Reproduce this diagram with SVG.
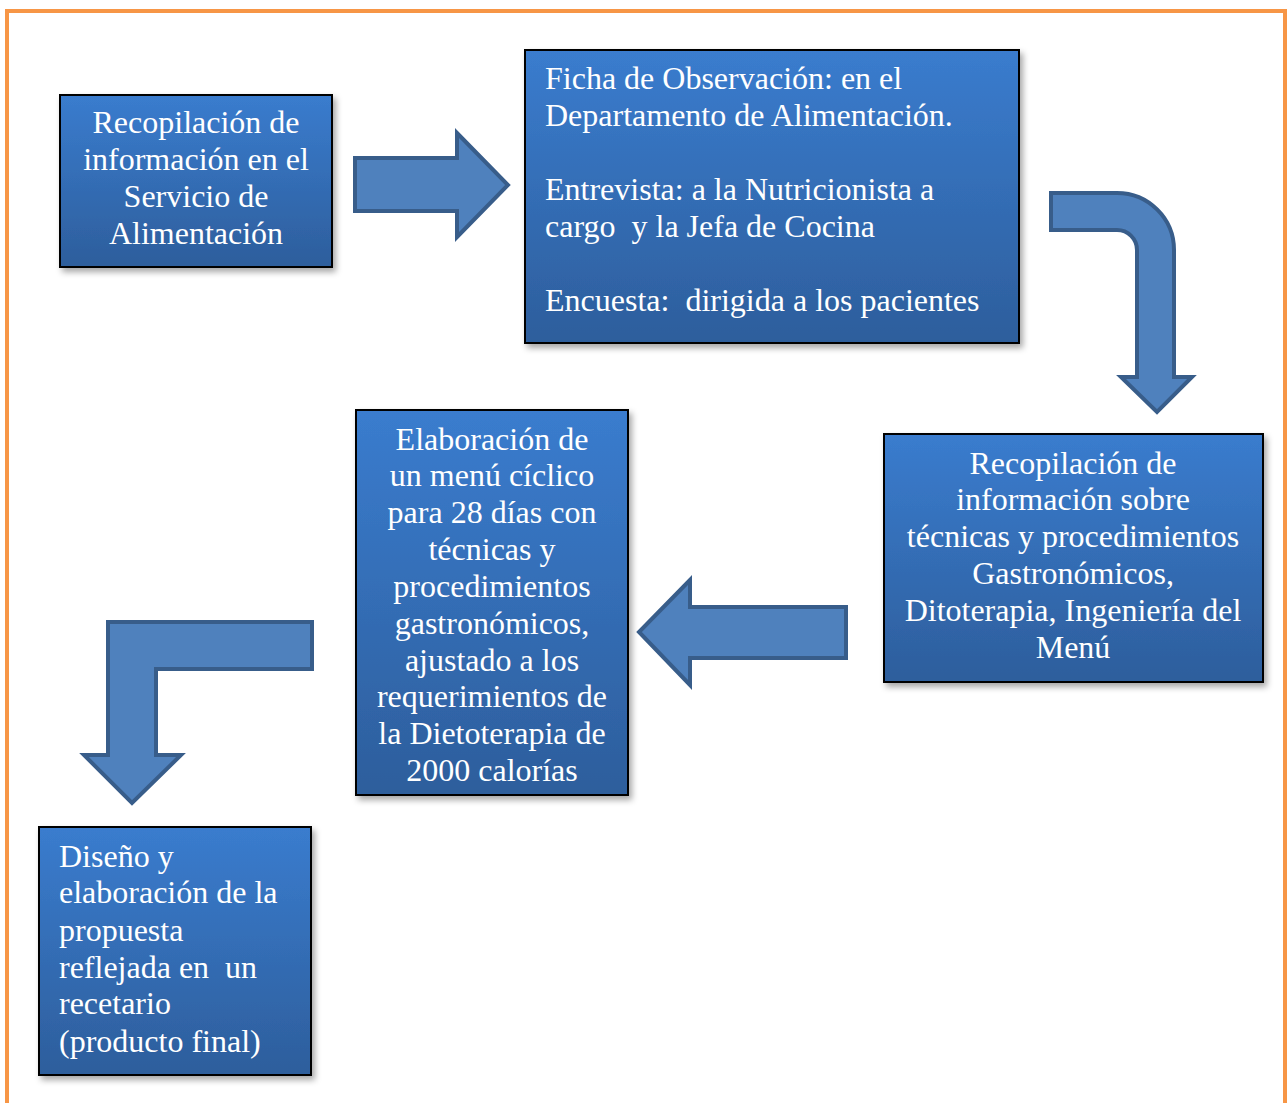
<svg xmlns="http://www.w3.org/2000/svg" width="1287" height="1103" viewBox="0 0 1287 1103">
<defs>
<linearGradient id="boxg" x1="0" y1="0" x2="0" y2="1">
<stop offset="0" stop-color="#3A7CCE"/>
<stop offset="1" stop-color="#2D5E9C"/>
</linearGradient>
<filter id="sh" x="-10%" y="-10%" width="130%" height="130%">
<feDropShadow dx="3" dy="4" stdDeviation="3" flood-color="#000" flood-opacity="0.35"/>
</filter>
</defs>
<style>
.box{fill:url(#boxg);stroke:#000;stroke-width:2;filter:url(#sh)}
.t{font-family:"Liberation Serif","Times New Roman",serif;font-size:32px;fill:#fff}
.c{text-anchor:middle}
.arr{fill:#4F81BD;stroke:#385D8A;stroke-width:4;stroke-linejoin:miter}
</style>
<rect x="0" y="0" width="1287" height="1103" fill="#fff"/>
<rect x="7" y="11" width="1278" height="1120" fill="none" stroke="#F79646" stroke-width="4"/>

<g id="connectors">
<path class="arr" d="M355,158 L457,158 L457,133 L508,185 L457,237 L457,211 L355,211 Z"/>
<path class="arr" d="M1051,193 L1117,193 A57,57 0 0 1 1174,250 L1174,377 L1192,377 L1157,412 L1121,377 L1137,377 L1137,250 A20,20 0 0 0 1117,230 L1051,230 Z"/>
<path class="arr" d="M846,607 L690,607 L690,580 L639,632 L690,685 L690,658 L846,658 Z"/>
<path class="arr" d="M312,622 L108,622 L108,755 L84,755 L132,803 L181,755 L156,755 L156,669 L312,669 Z"/>
</g>

<g id="node1">
<rect class="box" x="60" y="95" width="272" height="172"/>
<text class="t c" x="196" y="133">Recopilación de</text>
<text class="t c" x="196" y="170">información en el</text>
<text class="t c" x="196" y="207">Servicio de</text>
<text class="t c" x="196" y="244">Alimentación</text>
</g>

<g id="node2">
<rect class="box" x="525" y="50" width="494" height="293"/>
<text class="t" x="545" y="89">Ficha de Observación: en el</text>
<text class="t" x="545" y="126">Departamento de Alimentación.</text>
<text class="t" x="545" y="200">Entrevista: a la Nutricionista a</text>
<text class="t" x="545" y="237" xml:space="preserve">cargo  y la Jefa de Cocina</text>
<text class="t" x="545" y="311" xml:space="preserve">Encuesta:  dirigida a los pacientes</text>
</g>

<g id="node3">
<rect class="box" x="884" y="434" width="379" height="248"/>
<text class="t c" x="1073" y="474">Recopilación de</text>
<text class="t c" x="1073" y="510">información sobre</text>
<text class="t c" x="1073" y="547">técnicas y procedimientos</text>
<text class="t c" x="1073" y="584">Gastronómicos,</text>
<text class="t c" x="1073" y="621">Ditoterapia, Ingeniería del</text>
<text class="t c" x="1073" y="658">Menú</text>
</g>

<g id="node4">
<rect class="box" x="356" y="410" width="272" height="385"/>
<text class="t c" x="492" y="450">Elaboración de</text>
<text class="t c" x="492" y="486">un menú cíclico</text>
<text class="t c" x="492" y="523">para 28 días con</text>
<text class="t c" x="492" y="560">técnicas y</text>
<text class="t c" x="492" y="597">procedimientos</text>
<text class="t c" x="492" y="634">gastronómicos,</text>
<text class="t c" x="492" y="671">ajustado a los</text>
<text class="t c" x="492" y="707">requerimientos de</text>
<text class="t c" x="492" y="744">la Dietoterapia de</text>
<text class="t c" x="492" y="781">2000 calorías</text>
</g>

<g id="node5">
<rect class="box" x="39" y="827" width="272" height="248"/>
<text class="t" x="59" y="867">Diseño y</text>
<text class="t" x="59" y="903">elaboración de la</text>
<text class="t" x="59" y="941">propuesta</text>
<text class="t" x="59" y="978" xml:space="preserve">reflejada en  un</text>
<text class="t" x="59" y="1014">recetario</text>
<text class="t" x="59" y="1052">(producto final)</text>
</g>
</svg>
